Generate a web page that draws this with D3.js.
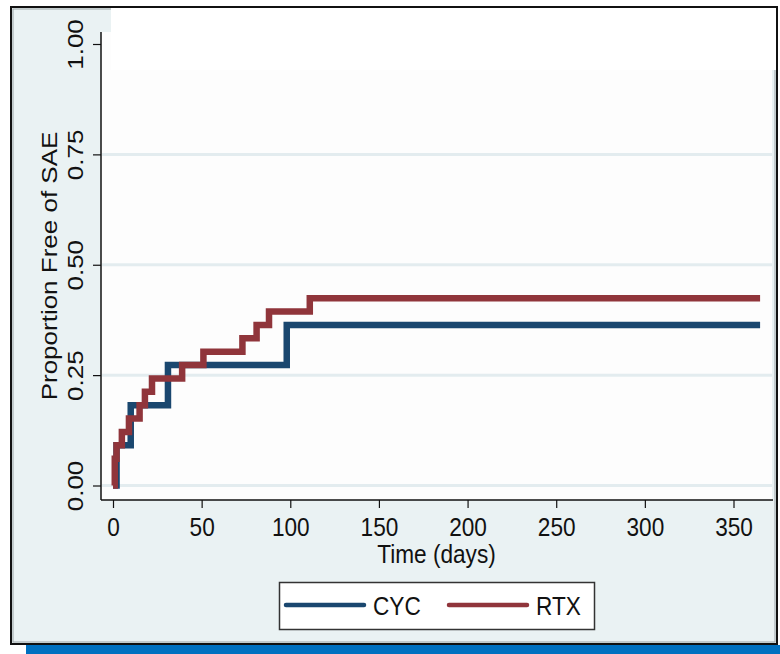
<!DOCTYPE html>
<html>
<head>
<meta charset="utf-8">
<script src="https://cdn.jsdelivr.net/npm/d3@7"></script>
<style>
  html, body { margin: 0; padding: 0; background: #fff; }
  svg { display: block; }
  text { font-family: "Liberation Sans", Arial, Helvetica, sans-serif; fill: #111; }
</style>
</head>
<body>
<svg id="chart" width="780" height="654"></svg>
<script>
// Kaplan-Meier style step data (days, proportion)
var cycDays =  [0, 2, 10, 31, 98, 365]
var cycProp =  [0, 0.0909, 0.1818, 0.2727, 0.3636, 0.3636]
var rtxDays =  [0, 1, 2, 5, 9, 15, 18, 22, 39, 51, 73, 81, 88, 111, 365]
var rtxProp =  [0, 0.0606, 0.0909, 0.1212, 0.1515, 0.1818, 0.2121, 0.2424, 0.2727, 0.3030, 0.3333, 0.3636, 0.3939, 0.4242, 0.4242]
var seriesNames = ['CYC', 'RTX']
var xTicks =   [0, 50, 100, 150, 200, 250, 300, 350]
var yTicks =   [0, 0.25, 0.5, 0.75, 1]

var colorCyc =    '#1a476f'
var colorRtx =    '#90353b'
var colorBg =     '#eaf2f3'
var colorGrid =   '#e3ecef'
var squeeze =     0.87   // source picture is a bit narrow

var svg = d3.select('#chart')

var plot = { left: 101, right: 772, top: 32, bottom: 500 }

var x = d3.scaleLinear().domain([0, 350]).range([113, 733.5])
var y = d3.scaleLinear().domain([0, 1]).range([485.5, 44])

// outer frame
svg.append('rect').attr('x', 26).attr('y', 645).attr('width', 754).attr('height', 9).attr('fill', '#0070c0')
svg.append('rect').attr('x', 11).attr('y', 7).attr('width', 766).attr('height', 637)
    .attr('fill', colorBg).attr('stroke', '#111').attr('stroke-width', 2)
svg.append('rect').attr('x', 13).attr('y', 9).attr('width', 762).attr('height', 633)
    .attr('fill', 'none').attr('stroke', '#9aa3a6').attr('stroke-width', 1)

// plot region + white patch at top
svg.append('rect').attr('x', plot.left).attr('y', plot.top)
    .attr('width', plot.right - plot.left).attr('height', plot.bottom - plot.top).attr('fill', '#fdfdfd')
svg.append('rect').attr('x', 111).attr('y', 8).attr('width', 665).attr('height', 62).attr('fill', '#fff')

// gridlines
svg.append('g').selectAll('line')
    .data(yTicks.filter(d => d < 1))
    .join('line')
    .attr('x1', plot.left + 1).attr('x2', plot.right)
    .attr('y1', d => y(d)).attr('y2', d => y(d))
    .attr('stroke', colorGrid).attr('stroke-width', 3)

// axes
var yAxis = svg.append('g')
    .attr('transform', `translate(${plot.left},0)`)
    .call(d3.axisLeft(y).tickValues(yTicks).tickSize(8).tickSizeOuter(0).tickFormat(d3.format('.2f')))
yAxis.select('.domain').remove()
yAxis.selectAll('line').attr('stroke', '#111').attr('stroke-width', 1.2)
yAxis.selectAll('text')
    .attr('x', null).attr('dy', null)
    .attr('text-anchor', 'middle')
    .attr('font-size', 26)
    .attr('transform', `translate(-18,0) scale(${squeeze},1) rotate(-90)`)

var xAxis = svg.append('g')
    .attr('transform', `translate(0,${plot.bottom})`)
    .call(d3.axisBottom(x).tickValues(xTicks).tickSize(8).tickSizeOuter(0))
xAxis.select('.domain').remove()
xAxis.selectAll('line').attr('stroke', '#111').attr('stroke-width', 1.2)
xAxis.selectAll('text')
    .attr('y', 36).attr('dy', null)
    .attr('font-size', 26)
    .attr('transform', `scale(${squeeze},1)`)

svg.append('line').attr('x1', plot.left).attr('x2', plot.left).attr('y1', plot.top).attr('y2', plot.bottom)
    .attr('stroke', '#111').attr('stroke-width', 1.5)
svg.append('line').attr('x1', plot.left).attr('x2', plot.right + 1).attr('y1', plot.bottom).attr('y2', plot.bottom)
    .attr('stroke', '#111').attr('stroke-width', 1.5)

// axis titles
svg.append('text')
    .attr('text-anchor', 'middle').attr('font-size', 26)
    .attr('transform', `translate(57,${(plot.top + plot.bottom) / 2}) scale(${squeeze},1) rotate(-90)`)
    .text('Proportion Free of SAE')
svg.append('text')
    .attr('text-anchor', 'middle').attr('font-size', 26)
    .attr('transform', `translate(${(plot.left + plot.right) / 2},563) scale(${squeeze},1)`)
    .text('Time (days)')

// step curves
var line = d3.line().curve(d3.curveStepAfter)
function drawCurve(days, props, color) {
    svg.append('path')
        .datum(days.map((d, i) => [x(d), y(props[i])]))
        .attr('d', line)
        .attr('fill', 'none')
        .attr('stroke', color)
        .attr('stroke-width', 6.5)
        .attr('stroke-linejoin', 'miter')
}
drawCurve(cycDays, cycProp, colorCyc)
drawCurve(rtxDays, rtxProp, colorRtx)

// legend
var legend = svg.append('g')
legend.append('rect').attr('x', 279.5).attr('y', 582.5).attr('width', 315).attr('height', 47)
    .attr('fill', '#fff').attr('stroke', '#333').attr('stroke-width', 1.5)
var legendX = [286, 449]
var legendColors = [colorCyc, colorRtx]
seriesNames.forEach((name, i) => {
    legend.append('line')
        .attr('x1', legendX[i]).attr('x2', legendX[i] + 78)
        .attr('y1', 605).attr('y2', 605)
        .attr('stroke', legendColors[i]).attr('stroke-width', 4.5).attr('stroke-linecap', 'round')
    legend.append('text')
        .attr('font-size', 26)
        .attr('transform', `translate(${legendX[i] + 87},615) scale(${squeeze},1)`)
        .text(name)
})
</script>
</body>
</html>
